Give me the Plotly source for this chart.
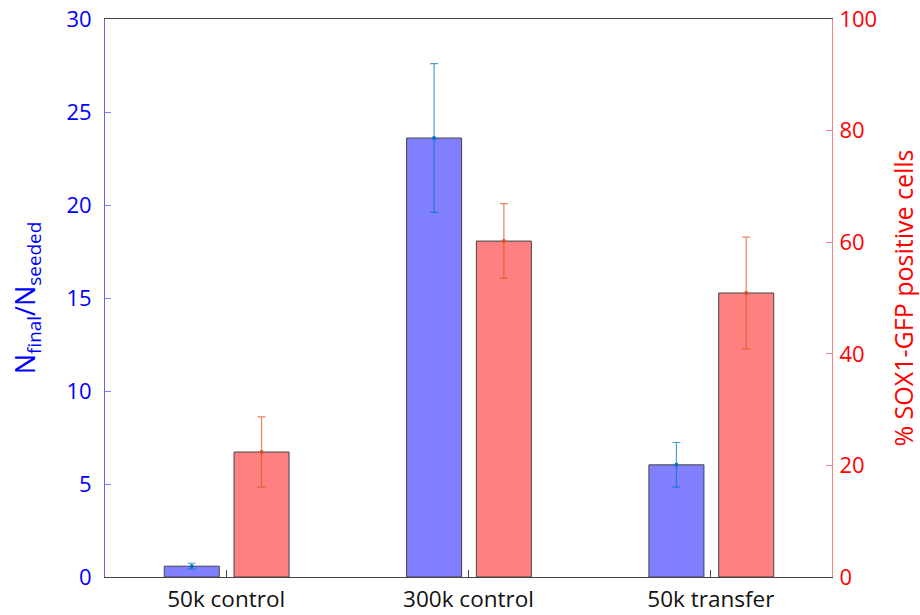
import numpy as np
import plotly.graph_objects as go

categories = ["50k control", "300k control", "50k transfer"]
ratio_vals = [0.58, 23.6, 6.03]
ratio_err = [0.16, 4.0, 1.2]
sox_vals = [22.4, 60.2, 50.9]
sox_err = [6.3, 6.7, 10.0]

idx = np.arange(len(categories))
bw = 0.227
xb = idx - 0.142
xr = idx + 0.146

FONT = "Open Sans"

fig = go.Figure()
fig.add_trace(go.Bar(x=xb, y=ratio_vals, width=bw, yaxis="y",
                     marker=dict(color="#8080ff", line=dict(color="#444444", width=1)),
                     showlegend=False, hoverinfo="skip"))
fig.add_trace(go.Bar(x=xr, y=sox_vals, width=bw, yaxis="y2",
                     marker=dict(color="#ff8080", line=dict(color="#444444", width=1)),
                     showlegend=False, hoverinfo="skip"))
fig.add_trace(go.Scatter(x=xb, y=ratio_vals, yaxis="y", mode="markers",
                         marker=dict(color="#0072bd", size=4),
                         error_y=dict(type="data", array=ratio_err, color="rgba(0,114,189,0.7)",
                                      thickness=1.2, width=4),
                         showlegend=False))
fig.add_trace(go.Scatter(x=xr, y=sox_vals, yaxis="y2", mode="markers",
                         marker=dict(color="#d95319", size=4),
                         error_y=dict(type="data", array=sox_err, color="rgba(217,83,25,0.7)",
                                      thickness=1.2, width=4),
                         showlegend=False))

fig.update_layout(
    width=920, height=615,
    margin=dict(l=105, r=88, t=19, b=38),
    plot_bgcolor="white", paper_bgcolor="white",
    barmode="overlay",
    font=dict(family=FONT),
    xaxis=dict(range=[-0.5, 2.5], tickvals=list(idx), ticktext=categories,
               ticks="inside", ticklen=7, tickcolor="#444444",
               showline=True, linecolor="#444444", linewidth=1, mirror=True,
               showgrid=False, zeroline=False, automargin=False,
               ticklabelstandoff=2,
               tickfont=dict(size=22.5, color="#111111", family=FONT)),
    yaxis=dict(range=[0, 30], tickvals=[0, 5, 10, 15, 20, 25, 30],
               ticks="inside", ticklen=6, tickcolor="#8080ff",
               showline=True, linecolor="#6060ff", linewidth=1,
               showgrid=False, zeroline=False, automargin=False,
               ticklabelstandoff=8,
               tickfont=dict(size=22, color="#0000ff", family=FONT),
               title=dict(text="N<sub>final</sub>/N<sub>seeded</sub>",
                          font=dict(size=27, color="#0000ff", family=FONT), standoff=22)),
    yaxis2=dict(range=[0, 100], tickvals=[0, 20, 40, 60, 80, 100], overlaying="y", side="right",
                ticks="inside", ticklen=6, tickcolor="#ff8080",
                showline=True, linecolor="#ff8080", linewidth=1,
                showgrid=False, zeroline=False, automargin=False,
                ticklabelstandoff=2,
                tickfont=dict(size=22, color="#ff0000", family=FONT),
                title=dict(text="% SOX1-GFP positive cells",
                           font=dict(size=25, color="#ff0000", family=FONT), standoff=19)),
)

fig.write_html("out.html")
